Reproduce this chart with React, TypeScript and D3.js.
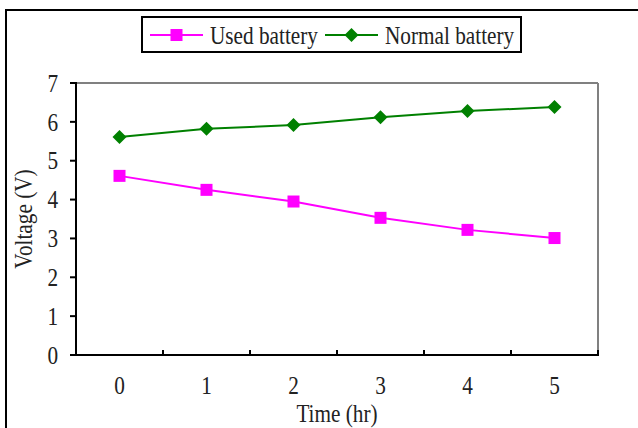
import React from "react";
import * as d3 from "d3";

const categories = ["0", "1", "2", "3", "4", "5"];
const usedBattery = [4.61, 4.25, 3.95, 3.53, 3.22, 3.01];
const normalBattery = [5.61, 5.82, 5.92, 6.12, 6.28, 6.38];
const yTicks = [0, 1, 2, 3, 4, 5, 6, 7];

const W = 638, H = 428;
const L = 76, R = 598, T = 83, B = 355;
const FONT = "'Liberation Serif', 'DejaVu Serif', serif";
const SX = 0.85;
const FS = 25;

function Label({ x, y, anchor = "start", rotate = 0, children }: any) {
  return (
    <text
      transform={`translate(${x},${y}) rotate(${rotate}) scale(${SX},1)`}
      textAnchor={anchor}
      dy="0.35em"
      fontSize={FS}
      fill="#222"
    >
      {children}
    </text>
  );
}

export default function App() {
  const x = d3.scaleBand<string>().domain(categories).range([L, R]);
  const y = d3.scaleLinear().domain([0, 7]).range([B, T]);
  const cx = (c: string) => (x(c) as number) + x.bandwidth() / 2;
  const line = d3.line<number>().x((_, i) => cx(categories[i])).y((d) => y(d));
  const bounds = categories.map((c) => x(c) as number).concat([R]);

  return (
    <svg width={W} height={H} style={{ position: "absolute", left: 0, top: 0, background: "#fff" }} fontFamily={FONT}>
      <rect x={0} y={0} width={W} height={H} fill="#fff" />
      <rect x={6} y={10} width={W + 20} height={H + 20} fill="none" stroke="#000" strokeWidth={2} />
      {/* plot frame */}
      <line x1={L} y1={T} x2={R} y2={T} stroke="#808080" strokeWidth={2} />
      <line x1={R} y1={T} x2={R} y2={B} stroke="#808080" strokeWidth={2} />
      <line x1={L} y1={T - 1} x2={L} y2={B + 1} stroke="#000" strokeWidth={2} />
      <line x1={L - 1} y1={B} x2={R + 1} y2={B} stroke="#000" strokeWidth={2} />
      {yTicks.map((t) => (
        <g key={t}>
          <line x1={L - 6} x2={L} y1={y(t)} y2={y(t)} stroke="#000" strokeWidth={2} />
          <Label x={58} y={y(t)} anchor="end">{t}</Label>
        </g>
      ))}
      {bounds.map((b, i) => (
        <line key={i} x1={b} x2={b} y1={B} y2={B - 5} stroke="#000" strokeWidth={2} />
      ))}
      {categories.map((c) => (
        <Label key={c} x={cx(c)} y={385} anchor="middle">{c}</Label>
      ))}
      <Label x={337} y={413} anchor="middle">Time (hr)</Label>
      <Label x={23} y={(T + B) / 2} anchor="middle" rotate={-90}>Voltage (V)</Label>

      <path d={line(normalBattery) || ""} fill="none" stroke="#008000" strokeWidth={2} />
      <path d={line(usedBattery) || ""} fill="none" stroke="#ff00ff" strokeWidth={2} />
      {normalBattery.map((v, i) => {
        const px = cx(categories[i]), py = y(v), s = 7;
        return <path key={i} d={`M${px},${py - s}L${px + s},${py}L${px},${py + s}L${px - s},${py}Z`} fill="#008000" />;
      })}
      {usedBattery.map((v, i) => (
        <rect key={i} x={cx(categories[i]) - 6} y={y(v) - 6} width={12} height={12} fill="#ff00ff" />
      ))}

      {/* legend */}
      <rect x={142} y={17} width={379} height={35} fill="#fff" stroke="#000" strokeWidth={2} />
      <line x1={150} x2={203} y1={35} y2={35} stroke="#ff00ff" strokeWidth={2} />
      <rect x={170.5} y={29} width={12} height={12} fill="#ff00ff" />
      <Label x={210} y={35}>Used battery</Label>
      <line x1={325} x2={378} y1={35} y2={35} stroke="#008000" strokeWidth={2} />
      <path d="M351.5,28L358.5,35L351.5,42L344.5,35Z" fill="#008000" />
      <Label x={385} y={35}>Normal battery</Label>
    </svg>
  );
}
